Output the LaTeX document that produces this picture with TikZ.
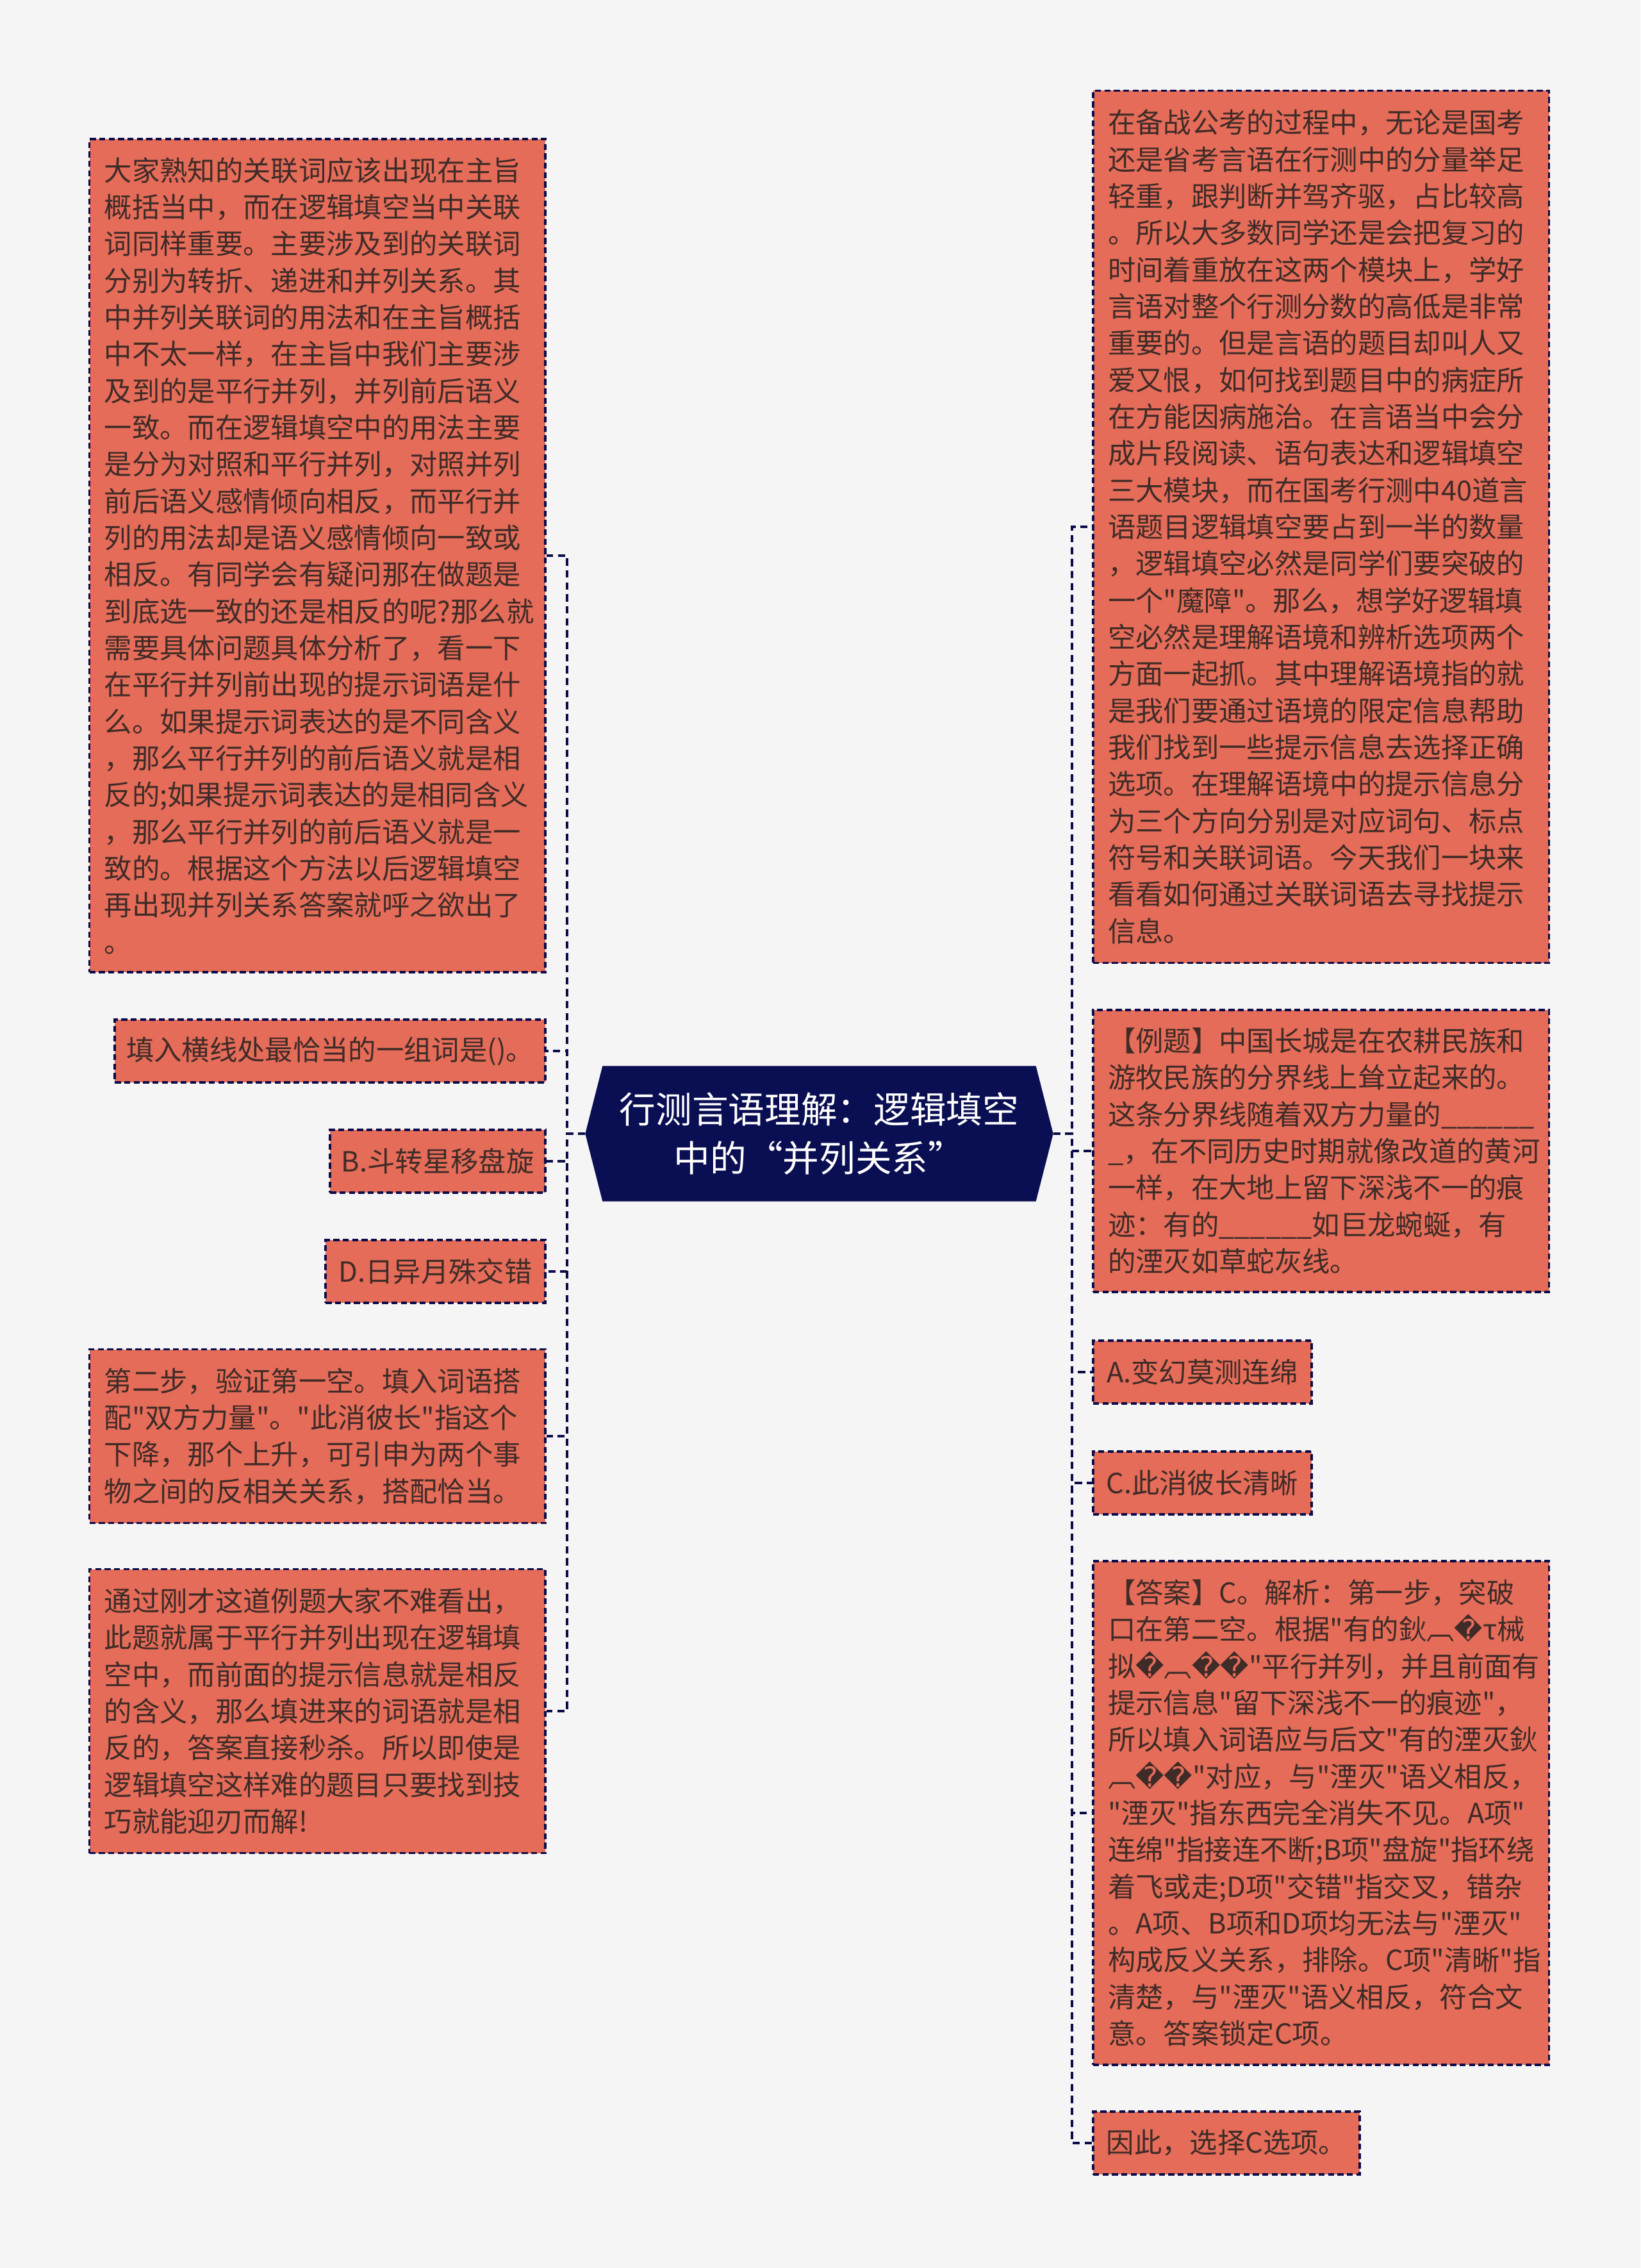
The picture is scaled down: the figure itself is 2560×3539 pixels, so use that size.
\documentclass[tikz,border=0pt]{standalone}
\usepackage{fontspec}
\setmainfont{Noto Sans CJK SC}[Ligatures=TeXOff]
\newfontfamily\repfont{DejaVu Sans}
\usetikzlibrary{backgrounds}
\definecolor{pagebg}{HTML}{F5F5F5}
\definecolor{leaffill}{HTML}{E46C59}
\definecolor{leafink}{HTML}{3F2B27}
\definecolor{navy}{HTML}{0B0C4A}
\definecolor{hubfill}{HTML}{0A0E52}
\newcommand{\bad}{{\repfont\symbol{"FFFD}}}
\begin{document}
\begin{tikzpicture}[x=0.3pt,y=-0.3pt]
\tikzstyle{leaf} = [
 draw=navy,
 fill=leaffill,
 text=leafink,
 line width=1.1pt,
 dash pattern=on 2.8pt off 1.6pt,
 inner xsep=5pt,
 inner ysep=5pt,
 minimum height=29.4pt,
 font=\fontsize{13}{17.2}\selectfont
]
\tikzstyle{longleaf} = [leaf, inner xsep=7pt, text width=199.5pt, align=left]
\tikzstyle{hub} = [
 text=white,
 minimum width=218.7pt,
 minimum height=63pt,
 align=center,
 font=\fontsize{17}{23}\selectfont
]
\tikzstyle{link} = [navy, line width=1.1pt, dash pattern=on 3.4pt off 2.2pt]
\useasboundingbox (0,0) rectangle (2560,3539);

\node[hub] at (1278.5,1769) (c) {行测言语理解：逻辑填空\\中的“并列关系”};

% left branch
\node[longleaf, anchor=east, minimum height=390pt] at (853,867) (l1) {大家熟知的关联词应该出现在主旨\\
概括当中，而在逻辑填空当中关联\\
词同样重要。主要涉及到的关联词\\
分别为转折、递进和并列关系。其\\
中并列关联词的用法和在主旨概括\\
中不太一样，在主旨中我们主要涉\\
及到的是平行并列，并列前后语义\\
一致。而在逻辑填空中的用法主要\\
是分为对照和平行并列，对照并列\\
前后语义感情倾向相反，而平行并\\
列的用法却是语义感情倾向一致或\\
相反。有同学会有疑问那在做题是\\
到底选一致的还是相反的呢?那么就\\
需要具体问题具体分析了，看一下\\
在平行并列前出现的提示词语是什\\
么。如果提示词表达的是不同含义\\
，那么平行并列的前后语义就是相\\
反的;如果提示词表达的是相同含义\\
，那么平行并列的前后语义就是一\\
致的。根据这个方法以后逻辑填空\\
再出现并列关系答案就呼之欲出了\\
。};
\node[leaf, anchor=east, minimum width=201.6pt] at (853,1640) (l2) {填入横线处最恰当的一组词是()。};
\node[leaf, anchor=east, minimum width=100.8pt] at (853,1812) (l3) {B.斗转星移盘旋};
\node[leaf, anchor=east, minimum width=102.9pt] at (853,1984) (l4) {D.日异月殊交错};
\node[longleaf, anchor=east, minimum height=81.3pt] at (853,2241) (l5) {第二步，验证第一空。填入词语搭\\
配"双方力量"。"此消彼长"指这个\\
下降，那个上升，可引申为两个事\\
物之间的反相关关系，搭配恰当。};
\node[longleaf, anchor=east, minimum height=132.9pt] at (853,2670) (l6) {通过刚才这道例题大家不难看出，\\
此题就属于平行并列出现在逻辑填\\
空中，而前面的提示信息就是相反\\
的含义，那么填进来的词语就是相\\
反的，答案直接秒杀。所以即使是\\
逻辑填空这样难的题目只要找到技\\
巧就能迎刃而解!};

% right branch
\node[longleaf, anchor=west, minimum height=408.3pt] at (1704,822) (r1) {在备战公考的过程中，无论是国考\\
还是省考言语在行测中的分量举足\\
轻重，跟判断并驾齐驱，占比较高\\
。所以大多数同学还是会把复习的\\
时间着重放在这两个模块上，学好\\
言语对整个行测分数的高低是非常\\
重要的。但是言语的题目却叫人又\\
爱又恨，如何找到题目中的病症所\\
在方能因病施治。在言语当中会分\\
成片段阅读、语句表达和逻辑填空\\
三大模块，而在国考行测中40道言\\
语题目逻辑填空要占到一半的数量\\
，逻辑填空必然是同学们要突破的\\
一个"魔障"。那么，想学好逻辑填\\
空必然是理解语境和辨析选项两个\\
方面一起抓。其中理解语境指的就\\
是我们要通过语境的限定信息帮助\\
我们找到一些提示信息去选择正确\\
选项。在理解语境中的提示信息分\\
为三个方向分别是对应词句、标点\\
符号和关联词语。今天我们一块来\\
看看如何通过关联词语去寻找提示\\
信息。};
\node[longleaf, anchor=west, minimum height=132pt] at (1704,1796) (r2) {【例题】中国长城是在农耕民族和\\
游牧民族的分界线上耸立起来的。\\
这条分界线随着双方力量的\_\_\_\_\_\_\\
\_，在不同历史时期就像改道的黄河\\
一样，在大地上留下深浅不一的痕\\
迹：有的\_\_\_\_\_\_如巨龙蜿蜒，有\\
的湮灭如草蛇灰线。};
\node[leaf, anchor=west, minimum width=102.3pt] at (1704,2141) (r3) {A.变幻莫测连绵};
\node[leaf, anchor=west, minimum width=102.3pt] at (1704,2314) (r4) {C.此消彼长清晰};
\node[longleaf, anchor=west, minimum height=235.8pt] at (1704,2829) (r5) {【答案】C。解析：第一步，突破\\
口在第二空。根据"有的鈥︹\bad τ械\\
拟\bad︹\bad\bad"平行并列，并且前面有\\
提示信息"留下深浅不一的痕迹"，\\
所以填入词语应与后文"有的湮灭鈥\\
︹\bad\bad"对应，与"湮灭"语义相反，\\
"湮灭"指东西完全消失不见。A项"\\
连绵"指接连不断;B项"盘旋"指环绕\\
着飞或走;D项"交错"指交叉，错杂\\
。A项、B项和D项均无法与"湮灭"\\
构成反义关系，排除。C项"清晰"指\\
清楚，与"湮灭"语义相反，符合文\\
意。答案锁定C项。};
\node[leaf, anchor=west, minimum width=124.8pt] at (1704,3344) (r6) {因此，选择C选项。};

\coordinate (lhub) at (885,1769);
\coordinate (rhub) at (1673,1769);

\path[draw,link] (c.west) -- (lhub) |- (l1.east);
\path[draw,link] (c.west) -- (lhub) |- (l2.east);
\path[draw,link] (c.west) -- (lhub) |- (l3.east);
\path[draw,link] (c.west) -- (lhub) |- (l4.east);
\path[draw,link] (c.west) -- (lhub) |- (l5.east);
\path[draw,link] (c.west) -- (lhub) |- (l6.east);
\path[draw,link] (c.east) -- (rhub) |- (r1.west);
\path[draw,link] (c.east) -- (rhub) |- (r2.west);
\path[draw,link] (c.east) -- (rhub) |- (r3.west);
\path[draw,link] (c.east) -- (rhub) |- (r4.west);
\path[draw,link] (c.east) -- (rhub) |- (r5.west);
\path[draw,link] (c.east) -- (rhub) |- (r6.west);

\begin{scope}[on background layer]
\fill[pagebg] (0,0) rectangle (2560,3539);
\fill[hubfill] ([xshift=8.1pt]c.north west) -- ([xshift=-8.1pt]c.north east) -- (c.east)
 -- ([xshift=-8.1pt]c.south east) -- ([xshift=8.1pt]c.south west) -- (c.west) -- cycle;
\end{scope}
\end{tikzpicture}
\end{document}
